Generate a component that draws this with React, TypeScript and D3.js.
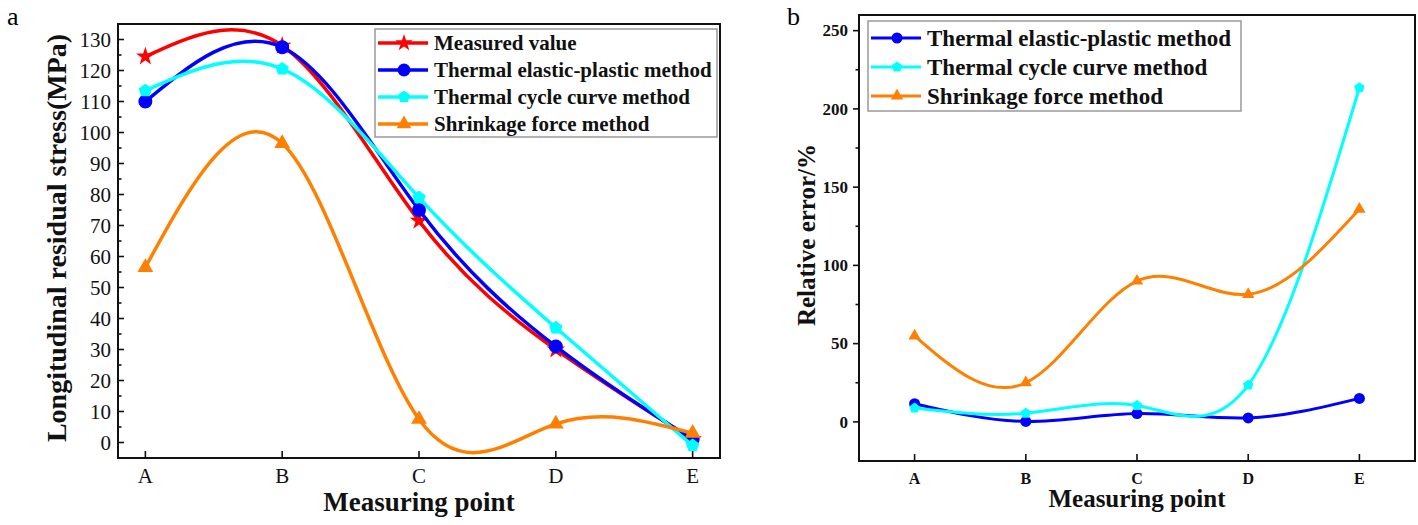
import React from 'react';
import * as d3 from 'd3';

const categories = ['A', 'B', 'C', 'D', 'E'];
// Chart a: longitudinal residual stress (MPa)
const measuredValue = [124.5, 128, 71.5, 30, 1];
const thermalElasticPlastic = [110, 127.5, 75, 31, 1];
const thermalCycleCurve = [113.5, 120.5, 79, 37, -1];
const shrinkageForce = [56.5, 96.5, 7.5, 6, 3];
// Chart b: relative error (%)
const errElasticPlastic = [11.6, 0.3, 5.3, 2.5, 15];
const errCycleCurve = [8.8, 5.5, 10.5, 23.5, 213.5];
const errShrinkage = [55, 25, 90, 81.5, 136];

const ticksA = [0, 10, 20, 30, 40, 50, 60, 70, 80, 90, 100, 110, 120, 130];
const minorA = [5, 15, 25, 35, 45, 55, 65, 75, 85, 95, 105, 115, 125, 135];
const ticksB = [0, 50, 100, 150, 200, 250];
const minorB = [-25, 25, 75, 125, 175, 225];

const RED = '#ff0000';
const BLUE = '#0000ff';
const CYAN = '#00ffff';
const ORANGE = '#ff8000';
const FONT = '"Liberation Serif", "Times New Roman", serif';

function markerPath(kind: string, size: number): string {
  if (kind === 'pentagon') {
    const r = size / 2;
    const pts = d3.range(5).map(i => {
      const a = -Math.PI / 2 + (i * 2 * Math.PI) / 5;
      return [r * Math.cos(a), r * Math.sin(a)];
    });
    return 'M' + pts.map(p => p.join(',')).join('L') + 'Z';
  }
  const type =
    kind === 'star' ? d3.symbolStar : kind === 'triangle' ? d3.symbolTriangle : d3.symbolCircle;
  return d3.symbol().type(type).size(size * size * (kind === 'star' ? 0.55 : kind === 'triangle' ? 0.55 : 0.785))() as string;
}

type Series = { name: string; values: number[]; color: string; marker: string };

function Panel(props: {
  x0: number; x1: number; y0: number; y1: number;
  xDomain: [number, number]; yDomain: [number, number];
  ticks: number[]; minor: number[];
  series: Series[];
  yInward: boolean;
  tickFont: number; tickBold: boolean; tickLabelGap: number;
  xLabelBaseline: number;
  yLabel: string; yLabelX: number; yLabelFont: number;
  xTitleY: number; xTitleFont: number;
  lineWidth: number; markerSize: number;
  legend: { x: number; y: number; w: number; rowStart: number; rowGap: number; font: number; lineW: number; markerSize: number; h: number };
  panelLabel: string; panelLabelX: number;
}) {
  const p = props;
  const x = d3.scaleLinear().domain(p.xDomain).range([p.x0, p.x1]);
  const y = d3.scaleLinear().domain(p.yDomain).range([p.y1, p.y0]);
  const line = d3.line<number>().x((_, i) => x(i)).y(d => y(d)).curve(d3.curveNatural);
  const dir = p.yInward ? 1 : -1;
  return (
    <g>
      <text x={p.panelLabelX} y={25} fontFamily={FONT} fontSize={26}>{p.panelLabel}</text>
      {/* series */}
      {p.series.map(s => (
        <g key={s.name}>
          <path d={line(s.values) as string} fill="none" stroke={s.color} strokeWidth={p.lineWidth} />
          {s.values.map((v, i) => (
            <path key={i} d={markerPath(s.marker, p.markerSize)} transform={`translate(${x(i)},${y(v)})`} fill={s.color} />
          ))}
        </g>
      ))}
      {/* frame */}
      <rect x={p.x0} y={p.y0} width={p.x1 - p.x0} height={p.y1 - p.y0} fill="none" stroke="#111" strokeWidth={2} />
      {/* y ticks */}
      {p.ticks.map(t => (
        <g key={t}>
          <line x1={p.x0} x2={p.x0 + dir * 6} y1={y(t)} y2={y(t)} stroke="#111" strokeWidth={1.6} />
          <text x={p.x0 - p.tickLabelGap} y={y(t)} dy="0.34em" textAnchor="end" fontFamily={FONT}
            fontSize={p.tickFont} fontWeight={p.tickBold ? 'bold' : 'normal'} fill="#111">{t}</text>
        </g>
      ))}
      {p.minor.filter(t => t > p.yDomain[0] && t < p.yDomain[1]).map(t => (
        <line key={t} x1={p.x0} x2={p.x0 + dir * 3.5} y1={y(t)} y2={y(t)} stroke="#111" strokeWidth={1.6} />
      ))}
      {/* x ticks */}
      {categories.map((c, i) => (
        <g key={c}>
          <line x1={x(i)} x2={x(i)} y1={p.y1} y2={p.y1 - 7} stroke="#111" strokeWidth={1.6} />
          <text x={x(i)} y={p.xLabelBaseline} textAnchor="middle" fontFamily={FONT}
            fontSize={p.tickBold ? p.tickFont - 1 : p.tickFont} fontWeight={p.tickBold ? 'bold' : 'normal'} fill="#111">{c}</text>
        </g>
      ))}
      {/* axis titles */}
      <text x={(p.x0 + p.x1) / 2} y={p.xTitleY} textAnchor="middle" fontFamily={FONT} fontSize={p.xTitleFont} fontWeight="bold" fill="#111">Measuring point</text>
      <text transform={`translate(${p.yLabelX},${(p.y0 + p.y1) / 2 - 3}) rotate(-90)`} textAnchor="middle" fontFamily={FONT}
        fontSize={p.yLabelFont} fontWeight="bold" fill="#111">{p.yLabel}</text>
      {/* legend */}
      <rect x={p.legend.x} y={p.legend.y} width={p.legend.w} height={p.legend.h} fill="#fff" stroke="#999" strokeWidth={1.5} />
      {p.series.map((s, i) => {
        const ry = p.legend.rowStart + i * p.legend.rowGap;
        const lx = p.legend.x + 3;
        return (
          <g key={s.name}>
            <line x1={lx} x2={lx + 50} y1={ry} y2={ry} stroke={s.color} strokeWidth={p.legend.lineW} />
            <path d={markerPath(s.marker, p.legend.markerSize)} transform={`translate(${lx + 26},${ry})`} fill={s.color} />
            <text x={lx + 56} y={ry} dy="0.33em" fontFamily={FONT} fontSize={p.legend.font} fontWeight="bold" fill="#111">{s.name}</text>
          </g>
        );
      })}
    </g>
  );
}

export default function App() {
  const seriesA: Series[] = [
    { name: 'Measured value', values: measuredValue, color: RED, marker: 'star' },
    { name: 'Thermal elastic-plastic method', values: thermalElasticPlastic, color: BLUE, marker: 'circle' },
    { name: 'Thermal cycle curve method', values: thermalCycleCurve, color: CYAN, marker: 'pentagon' },
    { name: 'Shrinkage force method', values: shrinkageForce, color: ORANGE, marker: 'triangle' },
  ];
  const seriesB: Series[] = [
    { name: 'Thermal elastic-plastic method', values: errElasticPlastic, color: BLUE, marker: 'circle' },
    { name: 'Thermal cycle curve method', values: errCycleCurve, color: CYAN, marker: 'pentagon' },
    { name: 'Shrinkage force method', values: errShrinkage, color: ORANGE, marker: 'triangle' },
  ];
  return (
    <svg width={1418} height={525} style={{ position: 'absolute', left: 0, top: 0, background: '#fff' }}>
      <rect width={1418} height={525} fill="#fff" />
      <Panel
        x0={118} x1={720} y0={24} y1={458}
        xDomain={[-0.2, 4.2]} yDomain={[-5, 135]}
        ticks={ticksA} minor={minorA} series={seriesA} yInward={true}
        tickFont={21} tickBold={false} tickLabelGap={7}
        xLabelBaseline={483}
        yLabel="Longitudinal residual stress(MPa)" yLabelX={66} yLabelFont={28}
        xTitleY={511} xTitleFont={27}
        lineWidth={3.5} markerSize={14}
        legend={{ x: 375, y: 29, w: 342, h: 108, rowStart: 43, rowGap: 27, font: 21, lineW: 3.5, markerSize: 13 }}
        panelLabel="a" panelLabelX={7}
      />
      <Panel
        x0={859} x1={1415} y0={15} y1={461}
        xDomain={[-0.5, 4.5]} yDomain={[-25, 260]}
        ticks={ticksB} minor={minorB} series={seriesB} yInward={false}
        tickFont={17} tickBold={true} tickLabelGap={11}
        xLabelBaseline={484}
        yLabel="Relative error/%" yLabelX={815} yLabelFont={25}
        xTitleY={507} xTitleFont={25}
        lineWidth={3} markerSize={11}
        legend={{ x: 868, y: 21, w: 373, h: 90, rowStart: 38, rowGap: 29, font: 23, lineW: 3, markerSize: 11 }}
        panelLabel="b" panelLabelX={787}
      />
    </svg>
  );
}
